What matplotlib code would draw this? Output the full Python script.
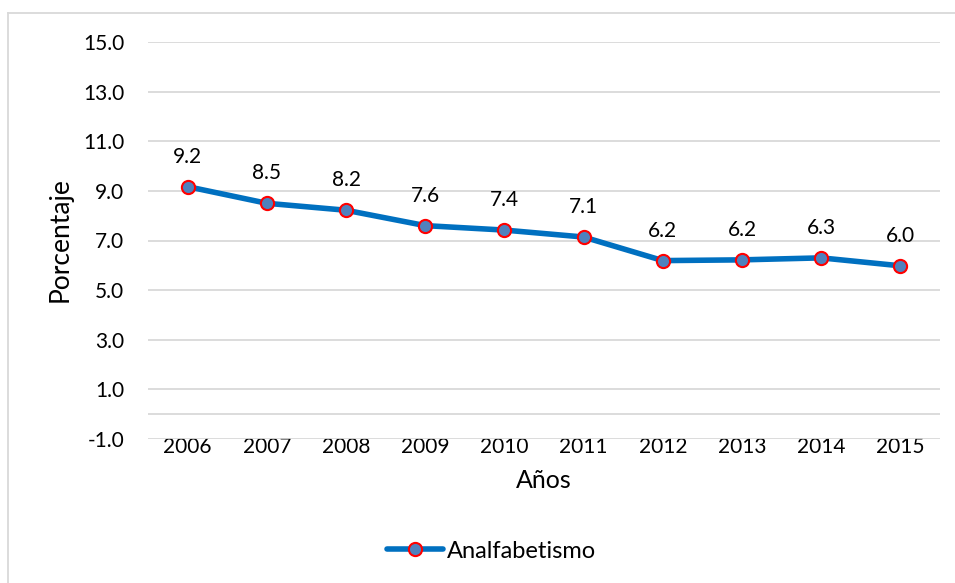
import matplotlib.pyplot as plt
from matplotlib.lines import Line2D

years = ['2006', '2007', '2008', '2009', '2010', '2011', '2012', '2013', '2014', '2015']
analfabetismo = [9.17, 8.5, 8.22, 7.6, 7.42, 7.14, 6.19, 6.22, 6.3, 5.98]
y_ticks = [-1, 1, 3, 5, 7, 9, 11, 13, 15]

plt.rcParams['font.family'] = ['Lato', 'DejaVu Sans']

W, H = 955, 583
fig = plt.figure(figsize=(W / 100, H / 100), dpi=100)

# plot area in pixels: x 148..940, y 42..439
left, right, top, bottom = 148, 940, 42, 439
ax = fig.add_axes([left / W, 1 - bottom / H, (right - left) / W, (bottom - top) / H])

x = list(range(len(years)))
ax.plot(x, analfabetismo, color='#0070C0', lw=4, solid_capstyle='round',
        marker='o', ms=9.5, mfc='#4F81BD', mec='#FF0000', mew=1.5, zorder=3)

for xi, v in zip(x, analfabetismo):
    ax.annotate(f'{v:.1f}', (xi, v), xytext=(0, 21.6), textcoords='offset points',
                ha='center', va='center', fontsize=15)

ax.set_xlim(-0.5, len(years) - 0.5)
ax.set_ylim(-1, 15)
ax.set_yticks(y_ticks)
ax.set_yticklabels([f'{t:.1f}' for t in y_ticks])
ax.set_xticks(x)
ax.set_xticklabels(years)
ax.tick_params(length=0, labelsize=15)
ax.tick_params(axis='y', pad=17)
ax.tick_params(axis='x', pad=-1.5)
ax.grid(axis='y', color='#D9D9D9', lw=1.3)
ax.axhline(0, color='#D9D9D9', lw=1.3, zorder=1)
ax.set_axisbelow(True)
for s in ax.spines.values():
    s.set_visible(False)

ax.set_xlabel('Años', fontsize=18, va='center')
ax.xaxis.set_label_coords(0.5, -(480 - bottom) / (bottom - top))
ax.set_ylabel('Porcentaje', fontsize=19, va='center', ha='center')
ax.yaxis.set_label_coords(-(left - 60) / (right - left), (bottom - 240) / (bottom - top))

# outer chart frame (cropped at right and bottom)
fig.add_artist(Line2D([8 / W, 1], [1 - 13 / H, 1 - 13 / H], color='#D9D9D9', lw=1.3))
fig.add_artist(Line2D([8 / W, 8 / W], [0, 1 - 13 / H], color='#D9D9D9', lw=1.3))

handle = Line2D([], [], color='#0070C0', lw=4, marker='o', ms=9.5,
                mfc='#4F81BD', mec='#FF0000', mew=1.5, solid_capstyle='round')
fig.legend([handle], ['Analfabetismo'], loc='center', bbox_to_anchor=(491.5 / W, 1 - 551 / H),
           frameon=False, fontsize=17, handlelength=2.37, handletextpad=0.17)

fig.savefig('out.png', dpi=100)
